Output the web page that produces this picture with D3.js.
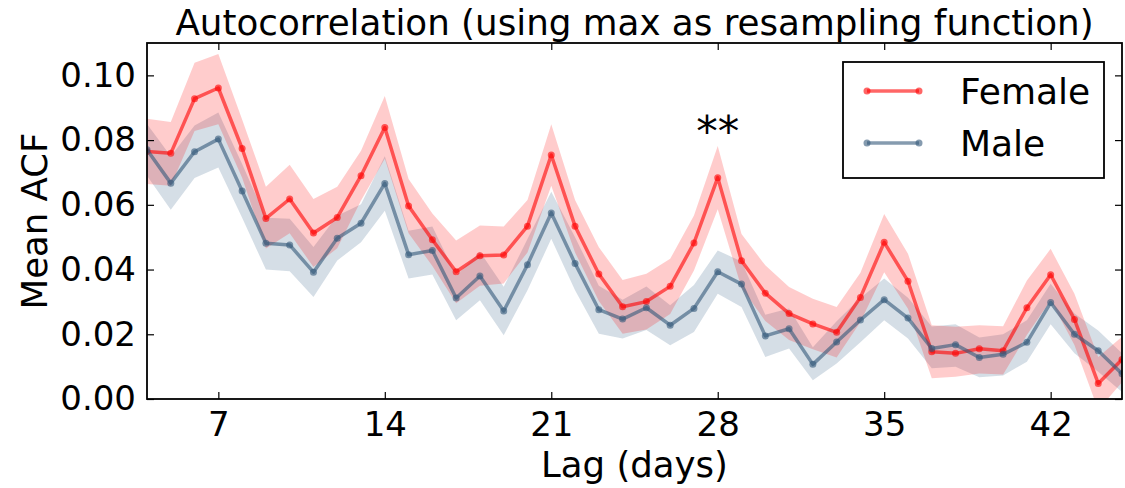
<!DOCTYPE html>
<html>
<head>
<meta charset="utf-8">
<script src="https://cdn.jsdelivr.net/npm/d3@7"></script>
<style>
  body { margin: 0; background: #fff; }
  svg { font-family: "DejaVu Sans", sans-serif; }
</style>
</head>
<body>
<div id="chart"></div>
<script>
// lags shown on the x axis
var lags = d3.range(4, 46);

var femaleMean = [0.0765, 0.0759, 0.0928, 0.0961, 0.0774, 0.0558, 0.0618, 0.0513, 0.0561, 0.0690,
                  0.0839, 0.0596, 0.0492, 0.0393, 0.0443, 0.0445, 0.0534, 0.0754, 0.0534, 0.0386,
                  0.0285, 0.0301, 0.0348, 0.0482, 0.0684, 0.0427, 0.0327, 0.0264, 0.0232, 0.0206,
                  0.0314, 0.0484, 0.0364, 0.0146, 0.0141, 0.0155, 0.0149, 0.0282, 0.0384, 0.0246,
                  0.0048, 0.0122];
var femaleHi = [0.0866, 0.0856, 0.1039, 0.1066, 0.0864, 0.0656, 0.0724, 0.0618, 0.0656, 0.0767,
                0.0936, 0.0680, 0.0573, 0.0490, 0.0536, 0.0533, 0.0615, 0.0849, 0.0615, 0.0469,
                0.0368, 0.0387, 0.0433, 0.0567, 0.0782, 0.0510, 0.0413, 0.0346, 0.0310, 0.0284,
                0.0390, 0.0572, 0.0449, 0.0228, 0.0223, 0.0228, 0.0225, 0.0366, 0.0464, 0.0325,
                0.0130, 0.0192];
var femaleLo = [0.0664, 0.0659, 0.0828, 0.0849, 0.0684, 0.0465, 0.0512, 0.0408, 0.0466, 0.0613,
                0.0742, 0.0512, 0.0411, 0.0296, 0.0350, 0.0357, 0.0453, 0.0659, 0.0453, 0.0303,
                0.0202, 0.0215, 0.0263, 0.0397, 0.0586, 0.0344, 0.0241, 0.0182, 0.0154, 0.0128,
                0.0238, 0.0392, 0.0279, 0.0064, 0.0069, 0.0079, 0.0076, 0.0198, 0.0305, 0.0167,
                -0.0034, 0.0052];

var maleMean = [0.0770, 0.0667, 0.0764, 0.0803, 0.0643, 0.0481, 0.0476, 0.0392, 0.0497, 0.0543,
                0.0666, 0.0446, 0.0459, 0.0312, 0.0380, 0.0272, 0.0415, 0.0575, 0.0419, 0.0276,
                0.0247, 0.0282, 0.0228, 0.0280, 0.0393, 0.0355, 0.0195, 0.0217, 0.0107, 0.0176,
                0.0244, 0.0307, 0.0250, 0.0156, 0.0168, 0.0128, 0.0138, 0.0175, 0.0298, 0.0200,
                0.0149, 0.0078];
var maleHi = [0.0850, 0.0750, 0.0845, 0.0885, 0.0726, 0.0560, 0.0557, 0.0470, 0.0566, 0.0602,
              0.0750, 0.0520, 0.0533, 0.0381, 0.0455, 0.0347, 0.0494, 0.0640, 0.0500, 0.0350,
              0.0307, 0.0348, 0.0290, 0.0352, 0.0459, 0.0425, 0.0260, 0.0280, 0.0160, 0.0240,
              0.0312, 0.0372, 0.0313, 0.0224, 0.0231, 0.0190, 0.0200, 0.0243, 0.0356, 0.0264,
              0.0212, 0.0141];
var maleLo = [0.0690, 0.0585, 0.0683, 0.0715, 0.0560, 0.0400, 0.0395, 0.0315, 0.0428, 0.0484,
              0.0582, 0.0372, 0.0385, 0.0243, 0.0305, 0.0197, 0.0336, 0.0495, 0.0336, 0.0202,
              0.0187, 0.0213, 0.0166, 0.0207, 0.0325, 0.0284, 0.0130, 0.0156, 0.0058, 0.0110,
              0.0175, 0.0243, 0.0187, 0.0095, 0.0100, 0.0067, 0.0073, 0.0115, 0.0231, 0.0141,
              0.0084, 0.0022];

var xTicks = [7, 14, 21, 28, 35, 42];
var yTicks = [0, 0.02, 0.04, 0.06, 0.08, 0.10];

(function () {
  var width = 1125, height = 488;
  var plotL = 147, plotR = 1122, plotT = 43, plotB = 399;

  var svg = d3.select("#chart")
    .append("svg")
    .attr("width", width)
    .attr("height", height);

  var x = d3.scaleLinear().domain([4, 45]).range([plotL, plotR]);
  var y = d3.scaleLinear().domain([0, 0.11]).range([plotB, plotT]);

  svg.append("clipPath")
     .attr("id", "plot-clip")
     .append("rect")
     .attr("x", plotL).attr("y", plotT)
     .attr("width", plotR - plotL).attr("height", plotB - plotT);

  var series = [
    { name: "Female", mean: femaleMean, lo: femaleLo, hi: femaleHi, color: "#ff0000", band: "#ff0000" },
    { name: "Male", mean: maleMean, lo: maleLo, hi: maleHi, color: "#34597a", band: "#2b5a80" }
  ];

  var plot = svg.append("g").attr("clip-path", "url(#plot-clip)");

  // male band first, female on top
  [series[1], series[0]].forEach(function (s) {
    var area = d3.area()
      .x(function (d, i) { return x(lags[i]); })
      .y0(function (d, i) { return y(s.lo[i]); })
      .y1(function (d, i) { return y(s.hi[i]); });
    plot.append("path")
      .datum(s.mean)
      .attr("d", area)
      .attr("fill", s.band)
      .attr("fill-opacity", 0.2);
  });

  series.forEach(function (s) {
    var line = d3.line()
      .x(function (d, i) { return x(lags[i]); })
      .y(function (d) { return y(d); });
    plot.append("path")
      .datum(s.mean)
      .attr("d", line)
      .attr("fill", "none")
      .attr("stroke", s.color)
      .attr("stroke-opacity", 0.6)
      .attr("stroke-width", 3.5)
      .attr("stroke-linejoin", "round");
    plot.selectAll(null)
      .data(s.mean)
      .enter()
      .append("circle")
      .attr("cx", function (d, i) { return x(lags[i]); })
      .attr("cy", function (d) { return y(d); })
      .attr("r", 3.5)
      .attr("fill", s.color)
      .attr("fill-opacity", 0.6);
  });

  // axes: ticks point inward on all four sides
  var tickLen = 7;
  var axisB = d3.axisBottom(x).tickValues(xTicks).tickSize(-tickLen).tickPadding(13).tickFormat(d3.format("d"));
  var axisT = d3.axisTop(x).tickValues(xTicks).tickSize(-tickLen).tickFormat("");
  var axisL = d3.axisLeft(y).tickValues(yTicks).tickSize(-tickLen).tickPadding(11).tickFormat(d3.format(".2f"));
  var axisR = d3.axisRight(y).tickValues(yTicks).tickSize(-tickLen).tickFormat("");

  function styleAxis(g) {
    g.select(".domain").remove();
    g.selectAll(".tick line").attr("stroke", "#000").attr("stroke-width", 1.2);
    g.selectAll(".tick text")
     .attr("fill", "#000")
     .style("font-family", "DejaVu Sans")
     .style("font-size", "34px");
  }

  svg.append("g").attr("transform", "translate(0," + plotB + ")").call(axisB).call(styleAxis);
  svg.append("g").attr("transform", "translate(0," + plotT + ")").call(axisT).call(styleAxis);
  svg.append("g").attr("transform", "translate(" + plotL + ",0)").call(axisL).call(styleAxis);
  svg.append("g").attr("transform", "translate(" + plotR + ",0)").call(axisR).call(styleAxis);

  svg.append("rect")
     .attr("x", plotL).attr("y", plotT)
     .attr("width", plotR - plotL).attr("height", plotB - plotT)
     .attr("fill", "none")
     .attr("stroke", "#000")
     .attr("stroke-width", 1.8);

  // labels
  svg.append("text")
     .attr("x", (plotL + plotR) / 2)
     .attr("y", 35)
     .attr("text-anchor", "middle")
     .style("font-size", "35.7px")
     .text("Autocorrelation (using max as resampling function)");

  svg.append("text")
     .attr("x", (plotL + plotR) / 2)
     .attr("y", 477)
     .attr("text-anchor", "middle")
     .style("font-size", "35.5px")
     .text("Lag (days)");

  svg.append("text")
     .attr("transform", "translate(47," + ((plotT + plotB) / 2) + ") rotate(-90)")
     .attr("text-anchor", "middle")
     .style("font-size", "35.5px")
     .text("Mean ACF");

  svg.append("text")
     .attr("x", x(28))
     .attr("y", 146)
     .attr("text-anchor", "middle")
     .style("font-size", "43px")
     .text("**");

  // legend
  var legend = svg.append("g").attr("transform", "translate(843,62)");
  legend.append("rect")
     .attr("width", 261).attr("height", 116)
     .attr("fill", "#fff")
     .attr("stroke", "#000")
     .attr("stroke-width", 1.8);

  series.forEach(function (s, i) {
    var ly = 29 + i * 52;
    legend.append("line")
      .attr("x1", 24).attr("x2", 76)
      .attr("y1", ly).attr("y2", ly)
      .attr("stroke", s.color)
      .attr("stroke-opacity", 0.6)
      .attr("stroke-width", 3.5);
    [24, 76].forEach(function (cx) {
      legend.append("circle")
        .attr("cx", cx).attr("cy", ly).attr("r", 3.5)
        .attr("fill", s.color)
        .attr("fill-opacity", 0.6);
    });
    legend.append("text")
      .attr("x", 117)
      .attr("y", ly + 13)
      .style("font-size", "36px")
      .text(s.name);
  });
})();
</script>
</body>
</html>
